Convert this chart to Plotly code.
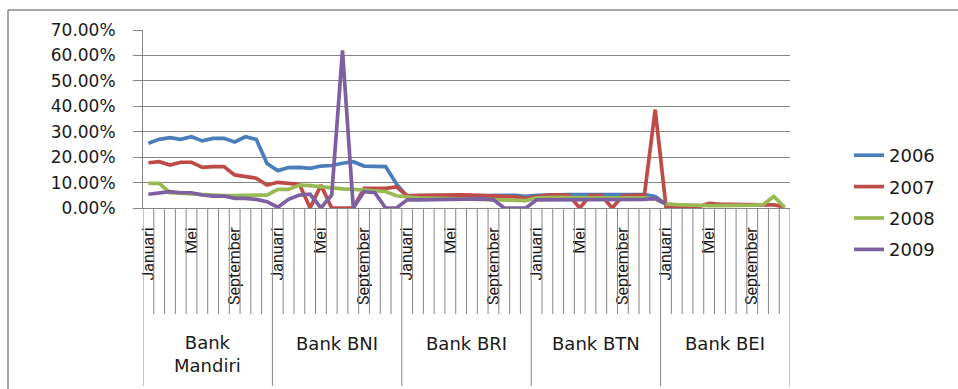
import plotly.graph_objects as go

# Categories
bulan = ["Januari", "Februari", "Maret", "April", "Mei", "Juni",
         "Juli", "Agustus", "September", "Oktober", "November", "Desember"]
bank = ["Bank Mandiri", "Bank BNI", "Bank BRI", "Bank BTN", "Bank BEI"]
tahun = ["2006", "2007", "2008", "2009"]
warna = ["#4A7EBB", "#BE4B48", "#98B954", "#7D60A0"]

# Monthly values (%), 12 months per bank in the order of `bank`
nilai_2006 = [25.5, 27.0, 27.7, 27.0, 28.0, 26.4, 27.4, 27.4, 26.0, 28.0, 27.0, 17.5,
              14.7, 15.9, 16.0, 15.6, 16.5, 16.7, 17.6, 18.2, 16.5, 16.3, 16.3, 9.5,
              4.5, 4.5, 4.6, 4.6, 4.6, 4.7, 4.7, 4.8, 4.9, 5.0, 5.0, 4.6,
              5.0, 5.2, 5.3, 5.3, 5.3, 5.3, 5.3, 5.3, 5.2, 5.2, 5.3, 4.5,
              1.5, None, None, None, None, None, None, None, None, None, None, None]
nilai_2007 = [17.8, 18.2, 16.9, 18.0, 18.0, 16.0, 16.3, 16.3, 13.0, 12.3, 11.7, 9.0,
              10.1, 9.7, 9.3, 0.0, 9.0, 0.0, 0.0, 0.0, 7.7, 7.7, 7.7, 8.3,
              4.8, 5.0, 5.1, 5.3, 5.4, 5.2, 5.1, 5.0, 4.8, 4.6, 4.4, 3.8,
              4.6, 5.1, 5.2, 5.0, 0.0, 5.0, 5.0, 0.0, 4.8, 5.0, 5.2, 38.7,
              0.6, 0.4, 0.4, 0.5, 1.8, 1.4, 1.4, 1.4, 1.4, 1.3, 1.2, 0.5]
nilai_2008 = [9.7, 9.7, 6.0, 5.8, 5.5, 5.1, 4.9, 4.9, 4.9, 5.1, 5.1, 5.1,
              7.3, 7.3, 9.0, 8.8, 8.4, 7.7, 7.5, 7.3, 7.0, 7.0, 6.5, 4.8,
              4.3, 4.0, 3.9, 3.8, 3.7, 3.6, 3.5, 3.4, 3.3, 3.2, 3.0, 2.9,
              4.0, 4.2, 4.2, 4.1, 4.0, 4.0, 4.0, 4.0, 4.0, 4.0, 4.0, 3.5,
              1.6, 1.3, 1.1, 1.0, 0.9, 0.9, 0.9, 1.0, 1.1, 1.3, 4.5, 0.3]
nilai_2009 = [5.4, 5.8, 6.4, 6.0, 6.0, 5.1, 4.7, 4.7, 3.8, 3.8, 3.4, 2.5,
              0.3, 3.4, 5.1, 5.4, 0.0, 5.1, 62.0, 0.0, 6.4, 6.0, 0.0, 0.0,
              3.2, 3.2, 3.3, 3.4, 3.5, 3.5, 3.6, 3.6, 3.2, 0.0, 0.0, 0.0,
              3.2, 3.2, 3.3, 3.3, 3.3, 3.3, 3.3, 3.3, 3.3, 3.3, 3.4, 3.8,
              1.5, None, None, None, None, None, None, None, None, None, None, None]

y_ticks = [0, 10, 20, 30, 40, 50, 60, 70]

n_bulan = len(bulan)
n_titik = n_bulan * len(bank)
x_idx = list(range(n_titik))

GRID = "#868686"
TEXT = "#1a1a1a"

# Plot area geometry (pixels)
W, H = 958, 389
ML, MR, MT, MB = 143, 168, 30, 181
PW, PH = W - ML - MR, H - MT - MB


def px_x(px):
    return (px - ML) / PW


def px_y(py):
    return (H - MB - py) / PH


fig = go.Figure()
for th, w, vals in zip(tahun, warna, [nilai_2006, nilai_2007, nilai_2008, nilai_2009]):
    fig.add_trace(go.Scatter(
        x=x_idx, y=vals, mode="lines", name=th, legendgroup=th,
        line=dict(color=w, width=3.7), connectgaps=False,
    ))

# Month labels every fourth month
tick_vals = [i for i in x_idx if (i % n_bulan) % 4 == 0]
tick_text = [bulan[i % n_bulan] for i in tick_vals]

shapes = []
# separators between months, longer separators between banks
for k in range(n_titik + 1):
    xb = k - 0.5
    is_group = (k % n_bulan == 0)
    shapes.append(dict(
        type="line", xref="x", yref="paper", x0=xb, x1=xb,
        y0=0, y1=px_y(386) if is_group else px_y(314),
        line=dict(color=GRID, width=1), layer="above",
    ))

# outer chart frame (top and left edges)
shapes.append(dict(type="line", xref="paper", yref="paper",
                   x0=px_x(8), x1=px_x(W), y0=px_y(10), y1=px_y(10),
                   line=dict(color="#8a8a8a", width=1.5)))
shapes.append(dict(type="line", xref="paper", yref="paper",
                   x0=px_x(8), x1=px_x(8), y0=px_y(10), y1=px_y(H),
                   line=dict(color="#8a8a8a", width=1.5)))

annotations = []
for g, nama in enumerate(bank):
    label = nama
    yy = px_y(343)
    if len(nama) > 9:
        parts = nama.split(" ")
        label = parts[0] + "<br>" + " ".join(parts[1:])
        yy = px_y(353.5)
    annotations.append(dict(
        x=g * n_bulan + (n_bulan - 1) / 2, y=yy, xref="x", yref="paper",
        text=label, showarrow=False, xanchor="center", yanchor="middle",
        font=dict(family="DejaVu Sans", size=18, color=TEXT),
    ))

fig.update_layout(
    width=W, height=H,
    margin=dict(l=ML, r=MR, t=MT, b=MB, pad=0),
    paper_bgcolor="white", plot_bgcolor="white",
    showlegend=True,
    legend=dict(
        x=px_x(849), xanchor="left", y=px_y(137), yanchor="top",
        font=dict(family="DejaVu Sans", size=18, color=TEXT),
        traceorder="grouped", tracegroupgap=5,
        bgcolor="rgba(0,0,0,0)", borderwidth=0,
    ),
    xaxis=dict(
        range=[-0.5, n_titik - 0.5], tickmode="array",
        tickvals=tick_vals, ticktext=tick_text, tickangle=-90,
        ticks="", showline=True, linecolor=GRID, linewidth=1,
        showgrid=False, zeroline=False, ticklabelstandoff=12,
        tickfont=dict(family="Roboto", size=16, color=TEXT),
    ),
    yaxis=dict(
        range=[0, 70], tickmode="array", tickvals=y_ticks,
        ticktext=[f"{v:.2f}%" for v in y_ticks],
        showgrid=True, gridcolor=GRID, gridwidth=1,
        showline=True, linecolor=GRID, linewidth=1,
        ticks="outside", ticklen=9, tickcolor=GRID, zeroline=False,
        ticklabelstandoff=14,
        tickfont=dict(family="DejaVu Sans", size=17, color=TEXT),
    ),
    shapes=shapes,
    annotations=annotations,
)

fig.write_html("out.html")
